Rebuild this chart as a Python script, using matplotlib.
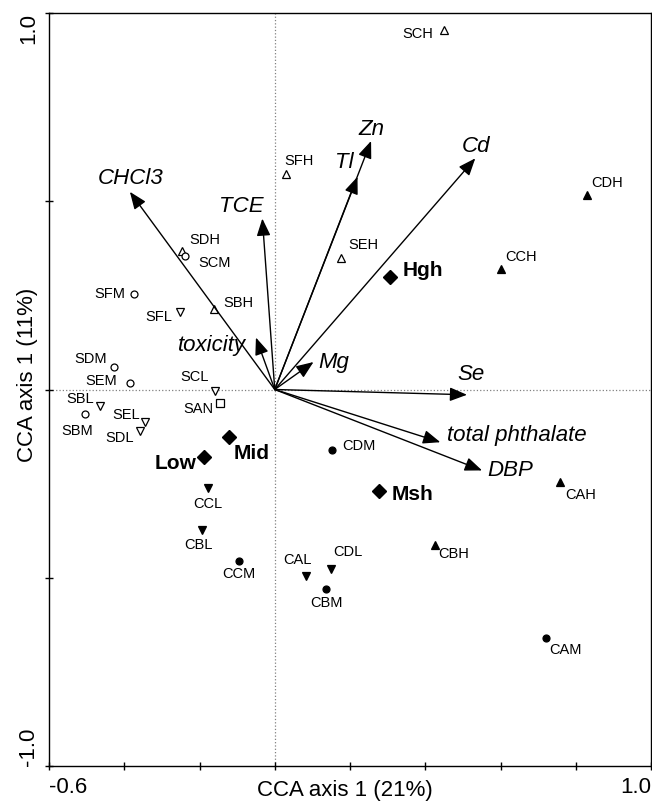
import matplotlib
matplotlib.use("Agg")
import matplotlib.pyplot as plt

# ----------------------------------------------
# Datos: puntuaciones CCA
# ----------------------------------------------
# Sitios: la primera letra indica el grupo (S = abierto, C = relleno),
# la última el nivel (H = alto, M = medio, L = bajo, N = ninguno)
site_names = ["SCH", "SFH", "SDH", "SCM", "SFM", "SFL", "SBH", "SDM", "SEM",
              "SCL", "SAN", "SBL", "SBM", "SEL", "SDL", "SEH",
              "CDH", "CCH", "CDM", "CAH", "CBH", "CDL", "CBM", "CAM",
              "CCL", "CBL", "CCM", "CAL"]
site_x = [0.450, 0.030, -0.247, -0.238, -0.373, -0.252, -0.162, -0.427, -0.386,
          -0.160, -0.145, -0.464, -0.504, -0.345, -0.358, 0.177,
          0.830, 0.602, 0.152, 0.759, 0.425, 0.150, 0.137, 0.722,
          -0.178, -0.193, -0.095, 0.082]
site_y = [0.955, 0.572, 0.368, 0.355, 0.253, 0.207, 0.213, 0.059, 0.016,
          -0.003, -0.037, -0.045, -0.066, -0.087, -0.109, 0.348,
          0.516, 0.321, -0.162, -0.246, -0.412, -0.477, -0.530, -0.661,
          -0.261, -0.372, -0.455, -0.495]

# Centroides de las clases
cent_names = ["Low", "Mid", "Hgh", "Msh"]
cent_x = [-0.187, -0.122, 0.305, 0.278]
cent_y = [-0.178, -0.125, 0.300, -0.270]

# Variables ambientales (flechas desde el origen)
env_names = ["CHCl3", "TCE", "toxicity", "Zn", "Tl", "Cd", "Mg", "Se",
             "total phthalate", "DBP"]
env_x = [-0.385, -0.033, -0.050, 0.256, 0.220, 0.533, 0.103, 0.511, 0.440, 0.551]
env_y = [0.525, 0.454, 0.138, 0.660, 0.565, 0.614, 0.073, -0.014, -0.140, -0.215]

# ----------------------------------------------
# Posición de las etiquetas (desplazamiento en píxeles)
# ----------------------------------------------
site_off = {
    "SCH": (-26, -4), "SFH": (13, 13), "SDH": (23, 11), "SCM": (29, -7),
    "SFM": (-25, 0), "SFL": (-21, -5), "SBH": (25, 6), "SDM": (-23, 8),
    "SEM": (-28, 2), "SCL": (-20, 14), "SAN": (-22, -6), "SBL": (-20, 7),
    "SBM": (-8, -17), "SEL": (-19, 7), "SDL": (-20, -7), "SEH": (22, 13),
    "CDH": (20, 12), "CCH": (20, 12), "CDM": (27, 4), "CAH": (20, -13),
    "CBH": (19, -9), "CDL": (17, 17), "CBM": (0, -14), "CAM": (19, -12),
    "CCL": (0, -16), "CBL": (-4, -15), "CCM": (0, -13), "CAL": (-8, 16),
}
cent_off = {"Low": (-29, -7), "Mid": (23, -17), "Hgh": (33, 6), "Msh": (33, -3)}
env_off = {
    "CHCl3": (1, 13), "TCE": (-21, 12), "toxicity": (-44, -8), "Zn": (0, 12),
    "Tl": (-13, 14), "Cd": (1, 12), "Mg": (20, 0), "Se": (4, 20),
    "total phthalate": (77, 7), "DBP": (28, 0),
}
shape = {"H": "^", "M": "o", "L": "v", "N": "s"}

plt.rcParams['font.family'] = ['Liberation Sans', 'DejaVu Sans']

fig = plt.figure(figsize=(6.52, 8.02), dpi=100)
ax = fig.add_axes([49 / 652, 36 / 802, 602 / 652, 753 / 802])

# Ejes de referencia punteados
ax.axhline(0, color='gray', linestyle=':', linewidth=0.9, zorder=0)
ax.axvline(0, color='gray', linestyle=':', linewidth=0.9, zorder=0)

# Flechas de las variables
for name, x, y in zip(env_names, env_x, env_y):
    ax.annotate('', xy=(x, y), xytext=(0, 0),
                arrowprops=dict(arrowstyle='-|>,head_length=0.75,head_width=0.3',
                                mutation_scale=14, color='black', lw=1.0,
                                shrinkA=0, shrinkB=0))
    ax.annotate(name, (x, y), xytext=env_off[name], textcoords='offset pixels',
                ha='center', va='center', fontsize=16, style='italic')

# Sitios
for name, x, y in zip(site_names, site_x, site_y):
    face = 'white' if name[0] == 'S' else 'black'
    m = shape[name[-1]]
    ms = 5 if m == 'o' else 6
    ax.plot(x, y, marker=m, markersize=ms, markerfacecolor=face,
            markeredgecolor='black', markeredgewidth=0.9, linestyle='none')
    ax.annotate(name, (x, y), xytext=site_off[name], textcoords='offset pixels',
                ha='center', va='center', fontsize=10.5)

# Centroides
for name, x, y in zip(cent_names, cent_x, cent_y):
    ax.plot(x, y, marker='D', markersize=7.5, color='black', linestyle='none')
    ax.annotate(name, (x, y), xytext=cent_off[name], textcoords='offset pixels',
                ha='center', va='center', fontsize=15, fontweight='bold')

ax.set_xlim(-0.6, 1.0)
ax.set_ylim(-1.0, 1.0)

xt = [-0.6, -0.4, -0.2, 0.0, 0.2, 0.4, 0.6, 0.8, 1.0]
yt = [-1.0, -0.5, 0.0, 0.5, 1.0]
ax.set_xticks(xt)
ax.set_xticklabels(["-0.6", "", "", "", "", "", "", "", "1.0"], fontsize=16)
ax.set_yticks(yt)
ax.set_yticklabels(["-1.0", "", "", "", "1.0"], fontsize=16, rotation=90)
ax.tick_params(direction='inout', length=6, width=1, colors='black')
ax.tick_params(axis='x', pad=5)
ax.tick_params(axis='y', pad=4)
xl = ax.get_xticklabels()
xl[0].set_horizontalalignment('left')
xl[-1].set_horizontalalignment('right')
yl = ax.get_yticklabels()
yl[0].set_verticalalignment('bottom')
yl[-1].set_verticalalignment('top')

ax.set_xlabel('CCA axis 1 (21%)', fontsize=16)
ax.set_ylabel('CCA axis 1 (11%)', fontsize=16)
ax.xaxis.set_label_coords(0.492, -0.0186)
ax.yaxis.set_label_coords(-0.018, 0.519)

for s in ax.spines.values():
    s.set_linewidth(1.0)

fig.savefig("out.png", dpi=100)
plt.close(fig)
